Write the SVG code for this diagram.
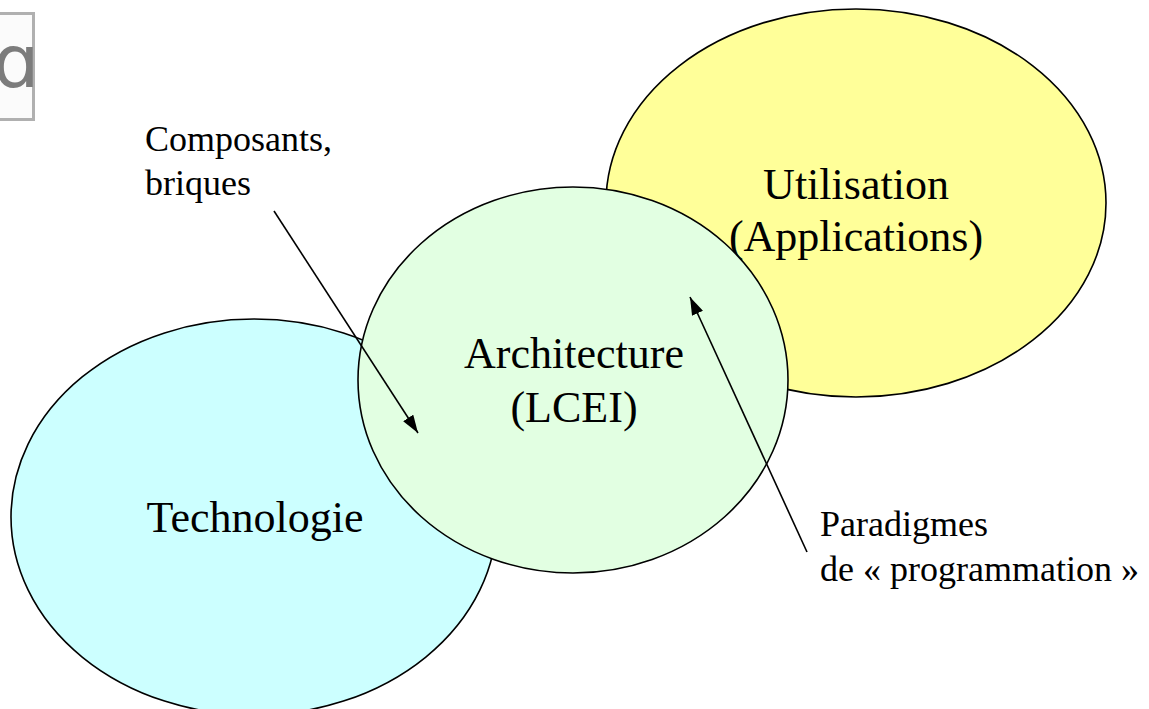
<svg xmlns="http://www.w3.org/2000/svg" width="1149" height="709" viewBox="0 0 1149 709">
  <style>
    .ell { stroke: #000; stroke-width: 1.6; }
    .big { font-family: "Liberation Serif", "Times New Roman", serif; font-size: 44px; fill: #000; text-anchor: middle; }
    .small { font-family: "Liberation Serif", "Times New Roman", serif; font-size: 36px; fill: #000; }
    .conn { stroke: #000; stroke-width: 1.6; fill: none; marker-end: url(#arrowBig); }
  </style>
  <defs>
    <marker id="arrowBig" viewBox="0 0 18 12" refX="18" refY="6" markerWidth="18" markerHeight="12" markerUnits="userSpaceOnUse" orient="auto">
      <path d="M0,0 L18,6 L0,12 z" fill="#000"/>
    </marker>
    <clipPath id="logoClip">
      <rect x="0" y="13" width="33" height="106"/>
    </clipPath>
  </defs>
  <rect x="0" y="0" width="1149" height="709" fill="#fff"/>

  <g id="logo-fragment">
    <rect x="-5" y="13.5" width="38.5" height="106" fill="#fbfbfb" stroke="#b0b0b0" stroke-width="3"/>
    <text x="-7" y="87" clip-path="url(#logoClip)" font-family="DejaVu Sans, sans-serif" font-size="73" fill="#7c7c7c">ɑ</text>
  </g>

  <g id="technologie">
    <ellipse class="ell" cx="254" cy="517" rx="243" ry="198" fill="#CCFFFF"/>
    <text class="big" x="255" y="532">Technologie</text>
  </g>

  <g id="utilisation">
    <ellipse class="ell" cx="856" cy="203" rx="250" ry="194" fill="#FFFF99"/>
    <text class="big" x="856" y="199">Utilisation</text>
    <text class="big" x="856" y="251">(Applications)</text>
  </g>

  <g id="architecture">
    <ellipse class="ell" cx="573" cy="380" rx="215" ry="193" fill="#E2FFE2"/>
    <text class="big" x="574" y="368">Architecture</text>
    <text class="big" x="574" y="422">(LCEI)</text>
  </g>

  <g id="label-composants">
    <text class="small" x="145" y="151">Composants,</text>
    <text class="small" x="145" y="195">briques</text>
  </g>

  <g id="label-paradigmes">
    <text class="small" x="820" y="536">Paradigmes</text>
    <text class="small" x="820" y="581">de « programmation »</text>
  </g>

  <g id="connectors">
    <line class="conn" x1="274" y1="211" x2="418" y2="433"/>
    <line class="conn" x1="807" y1="552" x2="690" y2="297"/>
  </g>
</svg>
